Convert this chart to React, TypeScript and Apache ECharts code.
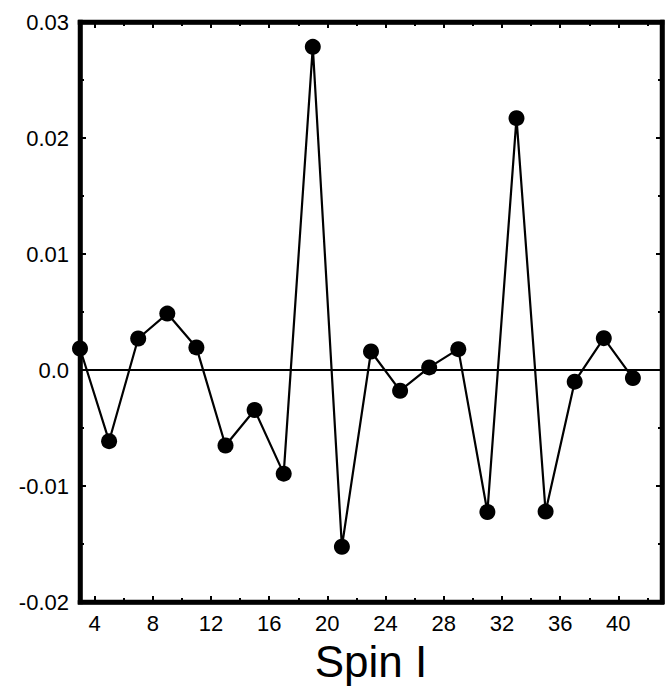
import React, { useEffect, useRef } from "react";
import * as echarts from "echarts";

const spins = [3, 5, 7, 9, 11, 13, 15, 17, 19, 21, 23, 25, 27, 29, 31, 33, 35, 37, 39, 41];
const values = [
  0.00186, -0.00613, 0.00272, 0.00487, 0.00195, -0.0065, -0.00344, -0.00893, 0.02786, -0.01523,
  0.0016, -0.00178, 0.00023, 0.0018, -0.01223, 0.02171, -0.0122, -0.001, 0.00275, -0.00069,
];
const xMajorTicks = [4, 8, 12, 16, 20, 24, 28, 32, 36, 40];
const xMinorTicks = [6, 10, 14, 18, 22, 26, 30, 34, 38, 42];
const xMin = 3;
const xMax = 43;
const yMin = -0.02;
const yMax = 0.03;
const yStep = 0.01;

const FONT = "'Liberation Sans', Arial, Helvetica, sans-serif";

export default function App() {
  const ref = useRef<HTMLDivElement>(null);
  useEffect(() => {
    if (!ref.current) return;
    const chart = echarts.init(ref.current, null, { renderer: "svg" });
    const lineW = 4.5;
    const yFmt = (v: number) => {
      const r = Math.round(v * 100) / 100;
      return r === 0 ? "0.0" : r.toFixed(2);
    };
    const xBase = (pos: "bottom" | "top", show: boolean, ticks: number[], len: number, drawLine: boolean) => ({
      type: "value",
      position: pos,
      min: xMin,
      max: xMax,
      axisLine: { show: drawLine, onZero: false, lineStyle: { color: "#000", width: lineW, cap: "square" } },
      axisTick: {
        show: true,
        inside: true,
        length: len,
        customValues: ticks,
        lineStyle: { color: "#000", width: 2 },
      },
      axisLabel: {
        show,
        customValues: xMajorTicks,
        color: "#000",
        fontSize: 22,
        fontFamily: FONT,
        margin: 10,
      },
      splitLine: { show: false },
    });
    const yBase = (pos: "left" | "right", show: boolean) => ({
      type: "value",
      position: pos,
      min: yMin,
      max: yMax,
      interval: yStep,
      axisLine: { show: true, onZero: false, lineStyle: { color: "#000", width: lineW, cap: "square" } },
      axisTick: { show: true, inside: true, length: 6, lineStyle: { color: "#000", width: 2 } },
      minorTick: { show: true, splitNumber: 2, length: 4, lineStyle: { color: "#000", width: 2 } },
      axisLabel: {
        show,
        formatter: yFmt,
        color: "#000",
        fontSize: 22,
        fontFamily: FONT,
        margin: 11,
      },
      splitLine: { show: false },
    });
    const xs: any[] = [
      {
        ...xBase("bottom", true, xMajorTicks, 6, true),
        name: "Spin I",
        nameLocation: "middle",
        nameGap: 34,
        nameTextStyle: { color: "#000", fontSize: 44, fontFamily: FONT },
      },
      { ...xBase("top", false, xMajorTicks, 6, true) },
      { ...xBase("bottom", false, xMinorTicks, 4, false) },
      { ...xBase("top", false, xMinorTicks, 4, false) },
    ];
    chart.setOption({
      animation: false,
      backgroundColor: "#fff",
      grid: {
        left: 80,
        right: 10,
        top: 22,
        bottom: 84,
        containLabel: false,
        show: true,
        borderColor: "#000",
        borderWidth: lineW,
        backgroundColor: "transparent",
      },
      xAxis: xs,
      yAxis: [yBase("left", true), yBase("right", false)],
      series: [
        {
          type: "line",
          xAxisIndex: 0,
          yAxisIndex: 0,
          data: spins.map((s, i) => [s, values[i]]),
          symbol: "circle",
          symbolSize: 16,
          showAllSymbol: true,
          lineStyle: { color: "#000", width: 2.2 },
          itemStyle: { color: "#000" },
          markLine: {
            silent: true,
            symbol: "none",
            label: { show: false },
            lineStyle: { color: "#000", width: 2, type: "solid" },
            data: [{ yAxis: 0 }],
          },
          z: 3,
        },
      ],
    });
    return () => chart.dispose();
  }, []);
  return (
    <div
      ref={ref}
      style={{ position: "fixed", left: 0, top: 0, width: 672, height: 688, background: "#fff" }}
    />
  );
}
